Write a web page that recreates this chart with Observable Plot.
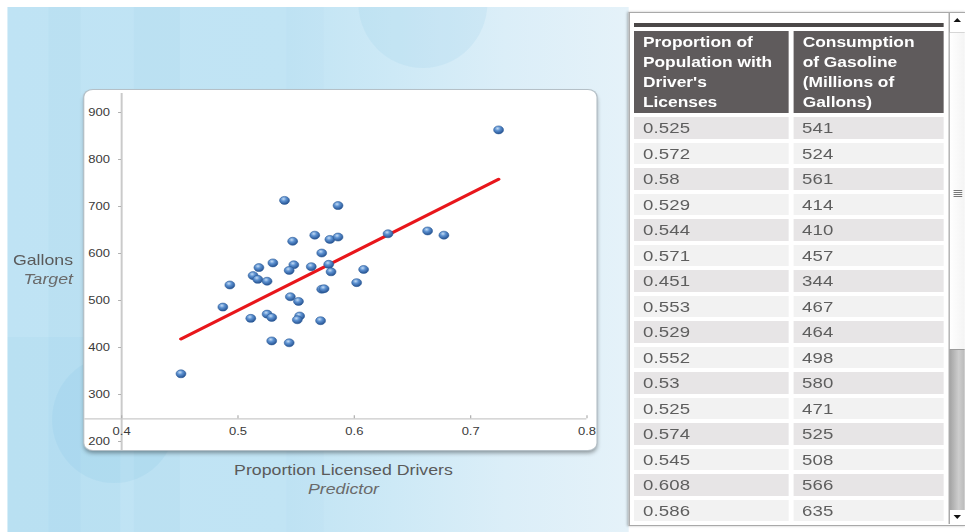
<!DOCTYPE html>
<html><head><meta charset="utf-8">
<script src="https://cdn.jsdelivr.net/npm/d3@7"></script>
<script src="https://cdn.jsdelivr.net/npm/@observablehq/plot@0.6"></script>
<style>
html,body{margin:0;padding:0;background:#fff;width:965px;height:532px;overflow:hidden;}
#stage{position:absolute;left:0;top:0;width:778.2px;height:532px;transform:scaleX(1.24);transform-origin:0 0;font-family:"Liberation Sans",Arial,sans-serif;}
.abs{position:absolute;}
#bg{left:6.45px;top:7px;width:500.5px;height:525px;overflow:hidden;background:linear-gradient(90deg,#bfe3f4 0%,#c1e4f4 45%,#cde9f6 62%,#dbeef8 80%,#e5f2f9 100%);}
.stripe{position:absolute;top:0;height:525px;background:rgba(120,190,228,0.06);}
.circ{position:absolute;border-radius:50%;}
#card{left:67.7px;top:90px;width:412.9px;height:360px;background:#fff;border-radius:7px;box-shadow:0 0 0 1px #b5c0c7,0 3px 4px rgba(0,0,0,0.38);overflow:visible;}
#card svg{position:absolute;left:0;top:0;overflow:visible;}
.ttl{color:#5a5a5a;font-size:14.3px;line-height:17px;white-space:nowrap;}
.sub{color:#6a6a6a;font-style:italic;}
#panel{left:506.5px;top:12px;width:271.7px;height:512px;background:#fff;border:1px solid #a9a9a9;border-right:none;box-shadow:-1px 0 2px rgba(0,0,0,0.25);}
#topline{left:510.5px;top:23px;width:250.8px;height:4px;background:#4b4848;}
#grid{left:510.5px;top:31px;display:grid;grid-template-columns:125px 121px;column-gap:4.8px;row-gap:4.23px;grid-template-rows:82px;grid-auto-rows:21.3px;}
.th{background:#5f5b5c;color:#fff;font-weight:bold;font-size:14px;line-height:20px;padding:1px 0 0 8px;box-sizing:border-box;white-space:nowrap;}
.th.c2{padding-left:7px;}
.td{color:#5e5e5e;font-size:15px;line-height:21.3px;padding-left:8px;box-sizing:border-box;letter-spacing:0.1px;}
.td.c2{padding-left:6.5px;}
.odd{background:#e7e5e6;}
.even{background:#f2f2f2;}
#sb{left:765.3px;top:13px;width:12.9px;height:511px;border-left:1px solid #9a9a9a;background:#fff;}
#thumb{left:766.3px;top:32px;width:11.9px;height:318px;background:linear-gradient(90deg,#ffffff,#f4f4f4);border-top:1px solid #d6d6d6;border-bottom:1px solid #9c9c9c;box-sizing:border-box;}
#track{left:766.3px;top:350px;width:11.9px;height:160px;background:linear-gradient(90deg,#a4a4a4,#cdcdcd 60%,#bababa);}
.tri-up{width:0;height:0;border-left:3px solid transparent;border-right:3px solid transparent;border-bottom:4px solid #111;}
.tri-dn{width:0;height:0;border-left:3px solid transparent;border-right:3px solid transparent;border-top:4px solid #111;}
.grip{left:769px;width:6.5px;height:1px;background:#777;}
</style>
</head><body>
<div id="stage">
  <div id="bg" class="abs">
    <div class="stripe" style="left:33px;width:26px;"></div>
    <div class="stripe" style="left:102px;width:37px;"></div>
    <div class="stripe" style="left:225px;width:30px;background:rgba(120,190,228,0.04)"></div>
    <div class="stripe" style="left:0;width:91px;top:330px;height:200px;background:rgba(120,190,228,0.08)"></div>
    <div class="circ" style="left:283px;top:-69px;width:104px;height:130px;background:rgba(150,205,235,0.18)"></div>
    <div class="circ" style="left:36px;top:349px;width:100px;height:127px;background:rgba(120,190,228,0.14)"></div>
  </div>
  <div id="card" class="abs"></div>
  <div class="abs ttl" id="yl1" style="left:0;width:58.9px;text-align:right;top:251.5px;"></div>
  <div class="abs ttl sub" id="yl2" style="left:0;width:58.9px;text-align:right;top:270.5px;"></div>
  <div class="abs ttl" id="xl1" style="left:177px;width:200px;text-align:center;top:461.5px;"></div>
  <div class="abs ttl sub" id="xl2" style="left:177px;width:200px;text-align:center;top:480.5px;"></div>
  <div id="panel" class="abs"></div>
  <div id="topline" class="abs"></div>
  <div id="grid" class="abs"></div>
  <div id="sb" class="abs"></div>
  <div id="thumb" class="abs"></div>
  <div id="track" class="abs"></div>
  <div class="abs tri-up" style="left:768.8px;top:18px;"></div>
  <div class="abs tri-dn" style="left:768.8px;top:515px;"></div>
  <div class="abs grip" style="top:190px;"></div>
  <div class="abs grip" style="top:192px;"></div>
  <div class="abs grip" style="top:194px;"></div>
  <div class="abs grip" style="top:196px;"></div>
</div>
<script>
// ---- data ----
const licensed = [0.724, 0.540, 0.586, 0.566, 0.547, 0.579, 0.586, 0.629, 0.663, 0.677, 0.572, 0.530, 0.518, 0.548, 0.563, 0.578, 0.544, 0.580, 0.608, 0.513, 0.517, 0.525, 0.493, 0.602, 0.572, 0.574, 0.545, 0.552, 0.487, 0.511, 0.525, 0.529, 0.553, 0.551, 0.571, 0.529, 0.544, 0.451];
const gallons  = [863, 713, 702, 639, 626, 630, 635, 642, 648, 639, 601, 580, 570, 576, 572, 577, 564, 561, 566, 553, 545, 541, 533, 538, 524, 525, 508, 498, 486, 462, 471, 464, 467, 459, 457, 414, 410, 344];
const fitX = [0.451, 0.724];
const fitY = [418, 758];
const xTicks = [0.4, 0.5, 0.6, 0.7, 0.8];
const yTicks = [200, 300, 400, 500, 600, 700, 800, 900];
const xAxisAt = 248;
const yTitle = ["Gallons", "Target"];
const xTitle = ["Proportion Licensed Drivers", "Predictor"];
const header1 = ["Proportion of", "Population with", "Driver's", "Licenses"];
const header2 = ["Consumption", "of Gasoline", "(Millions of", "Gallons)"];
const tableLicense = ["0.525", "0.572", "0.58", "0.529", "0.544", "0.571", "0.451", "0.553", "0.529", "0.552", "0.53", "0.525", "0.574", "0.545", "0.608", "0.586"];
const tableGallons = ["541", "524", "561", "414", "410", "457", "344", "467", "464", "498", "580", "471", "525", "508", "566", "635"];

const points = licensed.map((x, i) => ({x, y: gallons[i]}));
const fit = fitX.map((x, i) => ({x, y: fitY[i]}));

const plot = Plot.plot({
  width: 412.9, height: 360,
  marginLeft: 29.6, marginRight: 8, marginTop: 22, marginBottom: 9,
  x: {domain: [0.4, 0.8]},
  y: {domain: [200, 900]},
  style: {fontFamily: "Liberation Sans, Arial, sans-serif", fontSize: "10.5px", color: "#3a3a3a", background: "transparent", overflow: "visible"},
  marks: [
    Plot.ruleX([0.4], {stroke: "#cacaca", strokeWidth: 1.6, insetTop: -19, insetBottom: -9}),
    Plot.ruleY([xAxisAt], {stroke: "#cacaca", strokeWidth: 1.3, insetLeft: -29.6}),
    Plot.axisY(yTicks, {anchor: "left", tickSize: 2.4, tickPadding: 7, stroke: "#b0b0b0", fill: "#3a3a3a", label: null, tickFormat: d => String(d)}),
    Plot.axisX(xTicks, {anchor: "bottom", tickSize: 3, tickPadding: 9, dy: -25.7, stroke: "#b0b0b0", fill: "#3a3a3a", label: null, tickFormat: d3.format(".1f")}),
    Plot.line(fit, {x: "x", y: "y", stroke: "#e8161b", strokeWidth: 3}),
    Plot.dot(points, {x: "x", y: "y", r: 4, fill: "#4a80c2", stroke: "#2a5a96", strokeWidth: 0.5})
  ]
});
const svg = d3.select(plot);
const defs = svg.insert("defs", ":first-child");
const g = defs.append("radialGradient").attr("id", "ball").attr("cx", "40%").attr("cy", "32%").attr("r", "70%");
g.append("stop").attr("offset", "0%").attr("stop-color", "#c4dcf5");
g.append("stop").attr("offset", "40%").attr("stop-color", "#5b90d0");
g.append("stop").attr("offset", "100%").attr("stop-color", "#234f8e");
svg.selectAll("circle").attr("fill", "url(#ball)");
document.getElementById("card").appendChild(plot);

document.getElementById("yl1").textContent = yTitle[0];
document.getElementById("yl2").textContent = yTitle[1];
document.getElementById("xl1").textContent = xTitle[0];
document.getElementById("xl2").textContent = xTitle[1];

const grid = document.getElementById("grid");
function cell(cls, html) { const d = document.createElement("div"); d.className = cls; d.innerHTML = html; grid.appendChild(d); }
cell("th", header1.join("<br>"));
cell("th c2", header2.join("<br>"));
tableLicense.forEach((v, i) => {
  const band = i % 2 === 0 ? "odd" : "even";
  cell("td " + band, v);
  cell("td c2 " + band, tableGallons[i]);
});
</script>
</body></html>
